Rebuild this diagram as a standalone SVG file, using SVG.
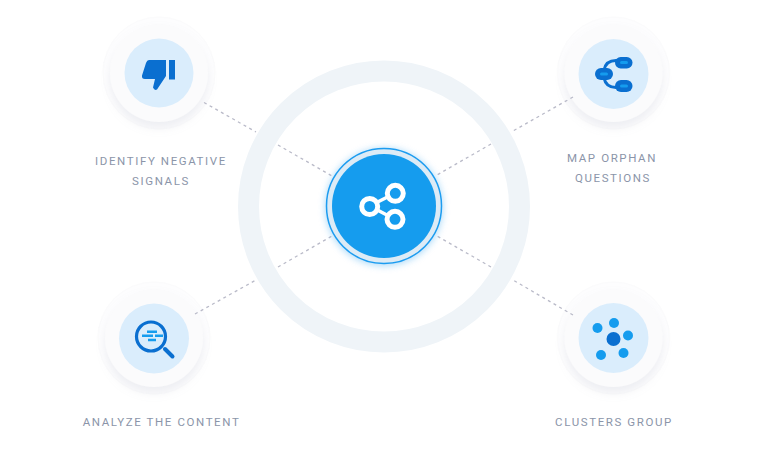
<svg xmlns="http://www.w3.org/2000/svg" width="768" height="453" viewBox="0 0 768 453">
<style>
.t{font-family:Roboto,"Liberation Sans",sans-serif;font-size:11.500px;letter-spacing:1.600px;fill:#8b95a9}
.c{fill:none;stroke:#b9bac8;stroke-width:1.300;stroke-dasharray:3 3.500}
.halo{fill:#fdfdfe;stroke:#fbfbfc;stroke-width:1}
.disc{fill:#fbfbfc;filter:url(#s)}
.in{fill:#daedfc}
.d{fill:#0a6fd0}
.l{fill:#159cee}
</style>
<defs>
<filter id="s" x="-40%" y="-40%" width="180%" height="180%"><feDropShadow dx="0" dy="6" stdDeviation="4" flood-color="#a8aec0" flood-opacity=".18"/></filter>
<filter id="g" x="-30%" y="-30%" width="160%" height="160%"><feGaussianBlur stdDeviation="3.500"/></filter>
</defs>
<rect width="768" height="453" fill="#fff"/>
<circle id="ring" cx="384" cy="206.500" r="135.500" fill="none" stroke="#eff4f8" stroke-width="21"/>
<g id="identify">
<circle class="halo" cx="159" cy="73" r="56"/><circle class="disc" cx="159" cy="73" r="49"/><circle class="in" cx="159" cy="73" r="34.500"/>
<path class="d" d="M149 60H166V76L157 89.500Q154.500 91 153 87.500L155 79H145Q141.500 79 142 75.500L146 63Q147 60 149 60ZM169 60H175V79.500H169Z"/>
<text class="t" x="161" y="164.500" text-anchor="middle">IDENTIFY NEGATIVE</text>
<text class="t" x="161" y="185" text-anchor="middle">SIGNALS</text>
</g>
<g id="orphan">
<circle class="halo" cx="613.500" cy="73" r="56"/><circle class="disc" cx="613.500" cy="73" r="49"/><circle class="in" cx="613.500" cy="74" r="35"/>
<path d="M604 70Q606 60 617 60.500M604 78Q606 88 617 87.500" fill="none" stroke="#0a6fd0" stroke-width="3"/>
<rect class="d" x="595" y="68" width="18" height="12" rx="6"/><rect class="d" x="615" y="57" width="17.500" height="11.500" rx="5.700"/><rect class="d" x="615" y="80" width="17.500" height="12" rx="6"/>
<rect class="l" x="600" y="72.500" width="8" height="3" rx="1.500"/><rect class="l" x="620" y="61" width="8" height="3" rx="1.500"/><rect class="l" x="620" y="84.500" width="8" height="3" rx="1.500"/>
<text class="t" x="612" y="161.500" text-anchor="middle">MAP ORPHAN</text>
<text class="t" x="613" y="182" text-anchor="middle">QUESTIONS</text>
</g>
<g id="analyze">
<circle class="halo" cx="154" cy="338" r="56"/><circle class="disc" cx="154" cy="338" r="49"/><circle class="in" cx="154" cy="338.500" r="35"/>
<circle cx="151" cy="336.500" r="14.500" fill="none" stroke="#0a6fd0" stroke-width="3.200"/>
<path d="M165 349L172.500 356.500" stroke="#0a6fd0" stroke-width="4" stroke-linecap="round"/>
<path d="M147 331.700H157M142 335.800H153M155 335.800H163M148 340H156" stroke="#159cee" stroke-width="2.500"/>
<text class="t" x="161.500" y="426" text-anchor="middle">ANALYZE THE CONTENT</text>
</g>
<g id="clusters">
<circle class="halo" cx="613.500" cy="338" r="56"/><circle class="disc" cx="613.500" cy="338" r="49"/><circle class="in" cx="613.500" cy="338" r="35"/>
<circle class="d" cx="613.500" cy="339" r="7"/>
<circle class="l" cx="597.500" cy="328" r="5"/><circle class="l" cx="614" cy="323" r="5"/><circle class="l" cx="628" cy="335.500" r="5"/><circle class="l" cx="601" cy="355" r="5"/><circle class="l" cx="623.500" cy="353" r="5"/>
<text class="t" x="614" y="426" text-anchor="middle">CLUSTERS GROUP</text>
</g>
<g id="connectors">
<path class="c" d="M204 102.500L256 132M278 145L332 176"/>
<path class="c" d="M573 97L513 131M491 144L437 175"/>
<path class="c" d="M195 314L256 280M278 267L332 236"/>
<path class="c" d="M573 315L513 280M491 267L437 236"/>
</g>
<g id="center">
<circle cx="384" cy="207" r="59" fill="#7cc4f5" opacity=".6" filter="url(#g)"/>
<circle cx="384" cy="206" r="57.500" fill="#dcebf6" stroke="#1c9cf0" stroke-width="1.500"/>
<circle cx="384" cy="206" r="52" fill="#159cee"/>
<path d="M369.700 206L395 193.300M369.700 206L395 219.300" stroke="#fff" stroke-width="3.500" fill="none"/>
<g fill="#159cee" stroke="#fff" stroke-width="5">
<circle cx="369.700" cy="206.500" r="8"/><circle cx="395.300" cy="193.300" r="8"/><circle cx="395" cy="219.300" r="8"/>
</g>
</g>
</svg>
